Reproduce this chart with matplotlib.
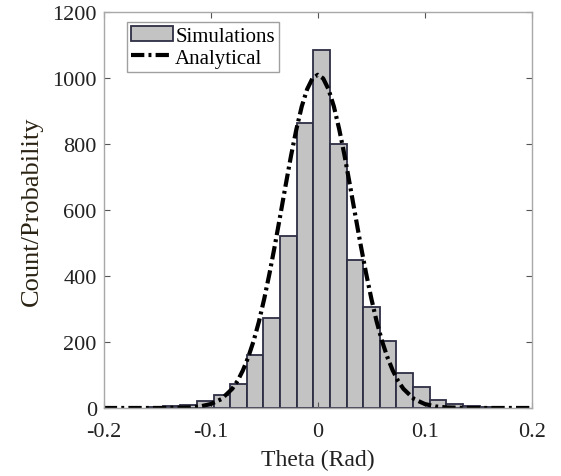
import numpy as np
import matplotlib
matplotlib.use('Agg')
import matplotlib.pyplot as plt

# histogram bins
bin_edges = [-0.1596, -0.1442, -0.1287, -0.1130, -0.0974, -0.0819, -0.0664,
             -0.0508, -0.0353, -0.0197, -0.0042, 0.0113, 0.0269, 0.0424,
             0.0580, 0.0735, 0.0890, 0.1046, 0.1201, 0.1357, 0.1512, 0.1668]
counts = [2, 5, 10, 20, 38, 72, 162, 272, 522, 865, 1085, 800, 450, 305,
          204, 107, 63, 25, 11, 5, 2]

# analytical curve, points
curve_x = [-0.2, -0.16, -0.14, -0.12, -0.11, -0.1, -0.09, -0.08, -0.075, -0.07,
           -0.065, -0.06, -0.055, -0.05, -0.045, -0.04, -0.035, -0.03, -0.025,
           -0.02, -0.015, -0.01, -0.005, 0.0, 0.005, 0.01, 0.015, 0.02, 0.025,
           0.03, 0.035, 0.04, 0.045, 0.05, 0.055, 0.06, 0.065, 0.07, 0.075,
           0.08, 0.09, 0.1, 0.11, 0.12, 0.14, 0.16, 0.2]
curve_y = [0, 0, 0.1, 1.7, 4.6, 12, 27, 58, 82, 114,
           154, 203, 262, 332, 410, 495, 585, 676, 765,
           845, 914, 966, 999, 1010, 999, 966, 914, 845, 765,
           676, 585, 495, 410, 332, 262, 203, 154, 114, 82,
           58, 27, 12, 4.6, 1.7, 0.1, 0, 0]

plt.rcParams['font.family'] = ['Liberation Serif', 'DejaVu Serif']
plt.rcParams['font.size'] = 16

fig = plt.figure(figsize=(5.61, 4.77), dpi=100)
ax = fig.add_axes([0.185, 0.1426, 0.763, 0.830])

edges = np.array(bin_edges)
bars = ax.bar(edges[:-1], counts, width=np.diff(edges), align='edge',
              color='#c3c3c3', edgecolor='#2e2e45', linewidth=1.3)
line, = ax.plot(curve_x, curve_y, color='black', linestyle=(0, (3.2, 1, 0.7, 1)),
                linewidth=3)

ax.set_xlim(-0.2, 0.2)
ax.set_ylim(0, 1200)
ax.set_xticks([-0.2, -0.1, 0, 0.1, 0.2])
ax.set_xticklabels(['-0.2', '-0.1', '0', '0.1', '0.2'])
ax.set_yticks(range(0, 1201, 200))
ax.tick_params(direction='in', top=True, right=True, length=4,
               color='#555555', labelcolor='#222222', labelsize=16)
ax.tick_params(axis='x', pad=10)
ax.tick_params(axis='y', pad=5)
for s in ax.spines.values():
    s.set_color('#a8a8a8')
    s.set_linewidth(1.0)

ax.set_xlabel('Theta (Rad)', fontsize=17, color='#222222', labelpad=6)
ax.set_ylabel('Count/Probability', fontsize=19, color='#2a2212', labelpad=7)

leg = ax.legend([bars, line], ['Simulations', 'Analytical'],
                loc='upper left', bbox_to_anchor=(0.045, 0.985), fontsize=15,
                frameon=True, fancybox=False, edgecolor='#888888',
                handlelength=2.0, handletextpad=0.1, borderpad=0.2,
                labelspacing=0.1, borderaxespad=0.2)
leg.get_frame().set_linewidth(1.0)

plt.savefig('out.png', dpi=100)
